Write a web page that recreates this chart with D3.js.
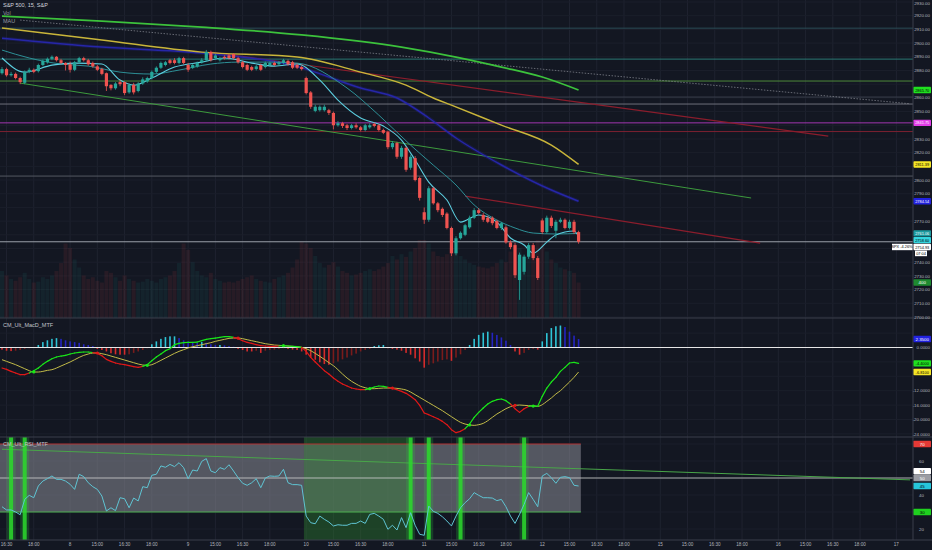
<!DOCTYPE html>
<html>
<head>
<meta charset="utf-8">
<script src="https://cdn.jsdelivr.net/npm/d3@7"></script>
<style>
  html, body { margin: 0; padding: 0; background: #131722; }
  svg { display: block; font-family: "Liberation Sans", Roboto, Arial, sans-serif; }
</style>
</head>
<body>
<svg id="chart" width="932" height="550"></svg>
<script>
// ---- data (S&P 500, 15 min) ----
var opens = [
  2878, 2881, 2876.5, 2877.5, 2874.5, 2871, 2879, 2880.5, 2879.5, 2884, 2886, 2888.5, 2890, 2887.5, 2885.5,
  2884.5, 2880.5, 2886, 2889, 2887.5, 2885.5, 2883, 2881, 2878, 2869.5, 2867, 2871.5, 2871.5, 2864, 2869.5, 2865, 2870.5, 2872, 2874.5, 2879, 2882, 2884, 2887.5, 2887.5, 2885.5, 2889,
  2884, 2882, 2883, 2886, 2887.5, 2893.5, 2889, 2887.5, 2890, 2891, 2892, 2889, 2886, 2884, 2882.5, 2881, 2884, 2882.5, 2884, 2885.5, 2884.5, 2885.5, 2887, 2886, 2884, 2882.5,
  2874.5, 2864, 2850.5, 2851, 2851, 2851, 2849, 2840, 2841.5, 2840, 2838, 2840, 2838.5, 2836.5, 2838.5, 2841, 2840, 2836.5, 2835, 2824, 2827, 2817, 2823.5, 2809, 2816, 2801.5,
  2776.5, 2771, 2794, 2783, 2779, 2775.5, 2765, 2746.5, 2757.5, 2760, 2765.5, 2772.5, 2778, 2774.5, 2772.5, 2772.5, 2770, 2765, 2765.5, 2754.5, 2752.5, 2727, 2733, 2744, 2752.5, 2743,
  2770.5, 2762, 2772.5, 2763, 2769.5, 2771, 2765, 2769.5, 2762
];
var highs = [
  2882.5, 2882, 2879, 2878.5, 2875.5, 2880, 2882, 2881.5, 2885, 2888, 2889.5, 2891, 2890.5, 2888.5, 2886,
  2886.5, 2887, 2890, 2890, 2888.5, 2886.5, 2884, 2882, 2878.5, 2870, 2871.5, 2873, 2872, 2870.5, 2871, 2871.5, 2875, 2875.5, 2880, 2883, 2886.5, 2887, 2888.5, 2889, 2890, 2890,
  2885.5, 2885, 2886.5, 2889, 2895, 2894.5, 2892, 2890, 2891, 2892, 2892.5, 2890, 2887, 2885, 2883.5, 2884, 2885, 2886.5, 2886.5, 2886.5, 2887, 2888.5, 2888, 2887, 2885, 2883.5,
  2875.5, 2865, 2855, 2854.5, 2855, 2852, 2850, 2843, 2842.5, 2841, 2841, 2841.5, 2839.5, 2841, 2841.5, 2842, 2841, 2837.5, 2836, 2828.5, 2828, 2825, 2824.5, 2818.5, 2817.5, 2802.5,
  2780, 2795.5, 2795, 2784, 2780, 2776.5, 2766, 2759, 2762.5, 2768, 2774, 2779.5, 2779.5, 2776, 2774, 2773.5, 2771, 2769.5, 2767, 2756, 2754, 2747, 2745.5, 2754, 2754, 2744.5,
  2772, 2774, 2774, 2771, 2772.5, 2772, 2771, 2771, 2763
];
var lows = [
  2877, 2875.5, 2875.5, 2873.5, 2870, 2870, 2878, 2878, 2878.5, 2883, 2885, 2887.5, 2886.5, 2884.5, 2880,
  2878.5, 2879.5, 2885, 2886.5, 2883.5, 2882, 2879.5, 2876.5, 2865, 2865.5, 2866, 2868.5, 2862, 2863, 2862.5, 2864, 2869.5, 2871, 2873.5, 2878, 2881, 2883, 2884.5, 2884.5, 2884.5, 2884.5,
  2879, 2881, 2882, 2885, 2886.5, 2886.5, 2888, 2886.5, 2888, 2888, 2888, 2885, 2881.5, 2879.5, 2879.5, 2880, 2879.5, 2881.5, 2883, 2883, 2883.5, 2884.5, 2883.5, 2881, 2881, 2880,
  2862.5, 2852, 2849.5, 2850, 2850, 2847.5, 2837, 2839, 2838, 2836.5, 2837, 2837.5, 2835.5, 2835.5, 2837.5, 2838.5, 2835.5, 2833.5, 2822.5, 2822.5, 2815.5, 2815.5, 2806, 2807.5, 2799, 2785,
  2768, 2769.5, 2782, 2776.5, 2773, 2764, 2744.5, 2745, 2756.5, 2759, 2764.5, 2771.5, 2775, 2769.5, 2768.5, 2767, 2764, 2763.5, 2753.5, 2749.5, 2728.5, 2712.5, 2731, 2742.5, 2741.5, 2727,
  2760.5, 2761, 2765, 2757.5, 2768.5, 2764, 2764, 2760.5, 2753.5
];
var closes = [
  2881, 2876.5, 2877.5, 2874.5, 2871.5, 2879, 2880.5, 2879, 2884, 2887, 2888.5, 2890, 2887.5, 2885.5, 2884,
  2880.5, 2886, 2889, 2887.5, 2884.5, 2883, 2880.5, 2877.5, 2868.5, 2867, 2870.5, 2870, 2863.5, 2869.5, 2864, 2870.5, 2873.5, 2874.5, 2879, 2882, 2885.5, 2886, 2885.5, 2885.5, 2889, 2885.5,
  2880.5, 2884, 2885.5, 2887.5, 2893.5, 2887.5, 2891, 2889, 2889, 2889, 2889, 2886, 2882.5, 2880.5, 2880.5, 2883, 2880.5, 2885.5, 2885.5, 2884, 2886, 2887.5, 2884.5, 2882, 2882, 2881,
  2863.5, 2853.5, 2853.5, 2853.5, 2853.5, 2849, 2840, 2841.5, 2839.5, 2838, 2840, 2838.5, 2836.5, 2840, 2840, 2839.5, 2836.5, 2834.5, 2824, 2827, 2817, 2823.5, 2807.5, 2817, 2800, 2787,
  2771, 2794, 2783, 2778, 2774.5, 2765, 2746.5, 2757.5, 2761.5, 2767, 2772.5, 2778, 2776, 2771, 2769.5, 2768.5, 2765, 2768.5, 2754.5, 2751, 2730.5, 2745.5, 2744, 2752.5, 2743, 2728.5,
  2762, 2772.5, 2766.5, 2769.5, 2771, 2765, 2769.5, 2762, 2754.93
];
var volumes = [
  530, 480, 440, 420, 460, 510, 440, 400, 410, 460, 440, 480, 530, 620, 840,
  790, 660, 570, 480, 440, 460, 420, 400, 530, 510, 460, 420, 480, 440, 420, 400, 410, 440, 420, 400, 440, 460, 480, 530, 620, 840,
  770, 630, 530, 480, 460, 510, 440, 420, 400, 410, 400, 420, 440, 460, 480, 440, 420, 410, 400, 440, 460, 480, 510, 570, 660, 860,
  840, 790, 700, 620, 570, 600, 630, 580, 530, 510, 480, 490, 510, 530, 550, 530, 550, 580, 620, 700, 660, 720, 690, 750, 790, 880,
  880, 840, 750, 700, 690, 720, 790, 750, 700, 660, 620, 600, 580, 570, 560, 580, 620, 660, 630, 750, 840, 790, 700, 690, 750, 880,
  840, 750, 660, 620, 570, 550, 530, 510, 400
];

// moving averages: [bar index, price]
var greenMA  = [[0, 2919.7], [22, 2916.1], [44, 2911.7], [66, 2906.0], [88, 2897.1], [100, 2889.8], [110, 2882.5], [119, 2875.2], [127, 2865.7]];
var yellowMA = [[0, 2911.0], [22, 2902.2], [44, 2893.4], [65, 2889.8], [79, 2878.8], [89, 2869.3], [95, 2859.9], [99, 2854.7], [110, 2840.1], [121, 2825.5], [127, 2811.39]];
var blueMA   = [[0, 2903.6], [22, 2897.1], [44, 2892.7], [64, 2883.9], [79, 2867.2], [87, 2859.9], [94, 2845.3], [100, 2830.7], [110, 2811.0], [121, 2792.7], [127, 2784.54]];
var fastMA   = [[0, 2889.1], [5, 2878.8], [11, 2883.9], [16, 2885.4], [22, 2884.7], [26, 2873.0], [29, 2869.3], [33, 2874.5], [38, 2882.5], [44, 2886.1], [49, 2889.1], [55, 2885.4], [60, 2883.2], [65, 2884.7], [70, 2873.0], [74, 2858.4], [79, 2845.3], [84, 2839.4], [88, 2829.2], [91, 2814.6], [94, 2798.5], [98, 2785.4], [101, 2769.3], [105, 2774.5], [109, 2769.3], [112, 2757.7], [115, 2752.6], [117, 2746.7], [120, 2754.7], [122, 2759.9], [126, 2762.8], [127, 2758.6]];
var slowMA   = [[0, 2894.9], [6, 2889.1], [13, 2884.7], [19, 2883.2], [26, 2878.8], [33, 2877.4], [39, 2880.3], [46, 2884.7], [52, 2886.1], [59, 2886.1], [65, 2885.4], [76, 2867.2], [83, 2847.4], [90, 2825.5], [95, 2810.9], [100, 2796.4], [104, 2781.8], [109, 2770.8], [113, 2765.0], [117, 2761.3], [122, 2760.6], [127, 2761.06]];

// drawn lines: [[index, price], [index, price]]
var greenTrend = [[4, 2870.8], [165, 2786.9]];
var redTrend1  = [[46, 2893.4], [182, 2832.1]];
var redTrend2  = [[102, 2788.3], [167, 2754.0]];
var dottedLine = [[4, 2916.8], [200, 2855.7]];
var levels = [2910.9, 2888.3, 2872.3, 2860.6, 2855.5, 2841.75, 2835.4, 2802.9];
var lastPrice = 2754.93;
var spxChange = '-4.26%';

// CM_Ult_MacD_MTF
var macdLine = [
  -5.70, -6.07, -6.63, -7.09, -7.55, -7.55, -7.09, -6.44, -5.70, -4.68,
  -3.85, -3.11, -2.64, -2.37, -2.18, -1.81, -1.53, -1.35, -1.25, -1.25,
  -1.44, -1.63, -2.27, -3.29, -3.85, -4.31, -4.59, -4.77, -5.05, -5.33,
  -5.51, -5.24, -4.77, -3.66, -2.64, -1.81, -0.88, -0.33, 0.78, 1.15,
  1.34, 1.43, 1.43, 1.52, 1.89, 2.26, 2.45, 2.63, 2.82, 3.00,
  3.00, 2.82, 2.45, 1.89, 1.43, 1.15, 0.78, 0.50, 0.41, 0.32,
  0.32, 0.41, 0.50, 0.41, 0.32, 0.23, 0.04, -1.07, -2.74, -4.03,
  -5.24, -6.44, -7.37, -8.48, -9.40, -10.14, -10.70, -11.26, -11.53, -11.72,
  -11.72, -11.44, -10.98, -10.70, -10.79, -11.07, -11.35, -11.72, -12.18, -12.74,
  -13.57, -14.50, -16.07, -18.20, -18.66, -19.22, -19.78, -20.52, -21.44, -22.83,
  -23.66, -23.29, -22.55, -21.26, -19.40, -18.02, -16.81, -15.70, -14.96, -14.50,
  -14.31, -14.77, -15.70, -16.99, -18.02, -16.99, -16.35, -16.16, -16.35, -13.57,
  -11.26, -9.59, -8.29, -6.63, -5.51, -4.31, -4.13, -4.40
];
var signalLine = [
  -3.39, -3.85, -4.31, -4.77, -5.33, -5.89, -6.44, -6.81, -6.81, -6.63,
  -6.35, -6.16, -5.70, -5.14, -4.59, -4.03, -3.39, -2.74, -2.18, -1.81,
  -1.53, -1.53, -1.72, -2.00, -2.37, -2.74, -3.11, -3.48, -3.85, -4.22,
  -4.59, -4.87, -4.96, -4.77, -4.22, -3.57, -2.92, -2.27, -1.63, -1.07,
  -0.61, -0.14, 0.23, 0.50, 0.78, 1.06, 1.34, 1.71, 1.99, 2.26,
  2.54, 2.63, 2.63, 2.45, 2.17, 1.89, 1.62, 1.34, 1.06, 0.87,
  0.69, 0.60, 0.50, 0.41, 0.32, 0.23, 0.04, -0.33, -0.88, -1.63,
  -2.46, -3.29, -4.22, -5.05, -6.16, -7.37, -8.48, -9.40, -10.14, -10.79,
  -11.16, -11.44, -11.44, -11.35, -11.26, -11.26, -11.26, -11.35, -11.53, -11.81,
  -12.37, -13.11, -13.85, -14.59, -15.33, -16.07, -16.81, -17.55, -18.39, -19.22,
  -20.05, -20.79, -21.26, -21.53, -21.63, -21.44, -21.07, -20.33, -19.40, -18.48,
  -17.74, -16.99, -16.44, -16.07, -15.98, -16.07, -16.16, -16.26, -16.35, -15.89,
  -14.96, -14.03, -12.92, -12.00, -10.79, -9.59, -8.29, -6.81
];
var macdHist = [
  -0.6, -0.9, -1.0, -0.9, -0.7, -0.4, -0.2, 0.1,
  0.7, 1.5, 2.0, 2.4, 2.6, 2.4, 2.0, 1.7, 1.5, 1.3, 0.9, 0.7, 0.4,
  -0.4, -0.7, -1.1, -1.6, -1.9, -2.0, -2.0, -1.9, -1.5, -1.1, -0.7, -0.2,
  0.9, 1.7, 2.4, 2.9, 3.1, 3.1, 2.6, 2.0, 1.7, 1.5, 1.3, 1.5, 1.3, 0.9, 0.7, 0.7, 0.6, 0.4, 0.2,
  -0.4, -0.7, -1.1, -1.1, -0.9, -1.5, -0.9, -0.7, -0.6, -0.4, -0.2, -0.4, -0.6, -0.7, -1.1, -2.0, -2.8, -3.4, -4.1, -4.6, -4.8, -4.4, -3.9, -3.3, -2.8, -2.2, -1.7, -1.1, -0.7, -0.4,
  0.4, 0.6, 0.7,
  -0.2, -0.4, -0.6, -0.9, -1.5, -2.0, -3.0, -3.9, -5.6, -4.8, -4.4, -3.9, -3.5, -3.3, -3.7, -2.8, -1.9, -0.7,
  0.7, 2.4, 3.5, 4.1, 4.4, 4.1, 3.5, 2.8, 1.9, 0.7,
  -1.1, -2.0, -1.5, -0.7, -0.4, -0.6,
  1.7, 4.0, 5.4, 5.9, 6.1, 5.7, 4.4, 3.3, 2.35
];

// CM_Ult_RSI_MTF
var rsiLine = [
  33.1, 31.2, 31.2, 30.0, 28.4, 37.4, 39.8, 38.4, 45.3, 48.2,
  49.6, 51.2, 49.2, 49.2, 48.2, 46.3, 43.3, 52.2, 50.8, 47.2,
  44.9, 43.3, 39.4, 30.6, 32.5, 30.8, 38.4, 37.8, 32.5, 38.2,
  36.5, 44.9, 44.3, 51.6, 52.2, 57.1, 56.3, 58.0, 56.7, 59.0,
  56.1, 49.6, 54.7, 54.1, 59.8, 61.4, 54.1, 53.1, 56.1, 55.1,
  57.8, 54.1, 50.2, 46.9, 45.7, 47.2, 49.6, 44.3, 50.0, 51.2,
  51.0, 51.2, 55.1, 47.2, 46.1, 46.1, 45.7, 27.6, 23.7, 23.1,
  27.6, 25.7, 24.1, 21.8, 22.5, 22.2, 22.2, 23.3, 23.3, 24.7,
  23.3, 28.6, 29.2, 27.6, 25.7, 19.8, 22.2, 19.4, 26.7, 20.8,
  29.6, 22.2, 16.9, 16.3, 33.5, 30.4, 29.2, 27.2, 24.7, 21.8,
  27.6, 32.5, 35.5, 37.8, 41.4, 39.8, 38.4, 38.4, 38.2, 36.7,
  37.4, 33.1, 27.6, 23.3, 28.6, 34.5, 41.4, 37.4, 33.1, 51.2,
  52.7, 50.2, 46.9, 50.4, 50.8, 50.2, 45.7, 45.3
];
var rsiZone = [67, 89];
var rsiSignalBars = [2, 5, 90, 94, 101, 115];
var rsiTrend = [[0, 66.9], [200, 48.9]];
var rsiMarks = [70, 54, 50, 30];

// time axis
var tickIndex = [1, 7, 15, 21, 27, 33, 41, 47, 53, 59, 67, 73, 79, 85, 93, 99, 105, 111, 119, 125, 131, 137, 145, 151, 157, 163, 171, 177, 183, 189, 197];
var tickText = ['16:30', '18:00', '8', '15:00', '16:30', '18:00', '9', '15:00', '16:30', '18:00', '10', '15:00', '16:30', '18:00', '11', '15:00', '16:30', '18:00', '12', '15:00', '16:30', '18:00', '15', '15:00', '16:30', '18:00', '16', '15:00', '16:30', '18:00', '17'];

// ---- drawing ----
var W = 932, H = 550, plotR = 913;
var up = '#26a69a', down = '#ef5350';
var svg = d3.select('#chart');
svg.append('rect').attr('width', W).attr('height', H).attr('fill', '#131722');

var n = closes.length;
var x = d3.scaleLinear().domain([0, 127]).range([2, 2 + 127 * 4.54]);
var yP = d3.scaleLinear().domain([2700, 2930]).range([317, 2]);
var yV = d3.scaleLinear().domain([0, 880]).range([318, 240]);
var yM = d3.scaleLinear().domain([-24, 4]).range([433.9, 333.1]);
var yR = d3.scaleLinear().domain([20, 70]).range([529, 444]);
var half = 2.27;

var defs = svg.append('defs');
function clip(id, y0, y1){
  defs.append('clipPath').attr('id', id).append('rect')
    .attr('x', 0).attr('y', y0).attr('width', plotR).attr('height', y1 - y0);
}
clip('cp', 0, 318);
clip('cm', 318, 437);
clip('cr', 437, 540);

// grid
var grid = svg.append('g');
grid.selectAll('line.v').data(tickIndex).enter().append('line')
  .attr('x1', d => x(d)).attr('x2', d => x(d)).attr('y1', 0).attr('y2', 540)
  .attr('stroke', '#1f2330').attr('stroke-width', 1);
var priceTicks = d3.range(2700, 2931, 10);
grid.selectAll('line.hp').data(priceTicks).enter().append('line')
  .attr('x1', 0).attr('x2', plotR).attr('y1', d => yP(d)).attr('y2', d => yP(d))
  .attr('stroke', '#1b1f2b');
var macdTicks = d3.range(-24, 5, 4);
grid.selectAll('line.hm').data(macdTicks).enter().append('line')
  .attr('x1', 0).attr('x2', plotR).attr('y1', d => yM(d)).attr('y2', d => yM(d))
  .attr('stroke', '#1b1f2b');
var rsiTicks = [20, 30, 40, 50, 60, 70];
grid.selectAll('line.hr').data(rsiTicks).enter().append('line')
  .attr('x1', 0).attr('x2', plotR).attr('y1', d => yR(d)).attr('y2', d => yR(d))
  .attr('stroke', '#1b1f2b');

// ---- price pane ----
var gP = svg.append('g').attr('clip-path', 'url(#cp)');

// volume
gP.selectAll('rect.vol').data(d3.range(n)).enter().append('rect')
  .attr('x', i => x(i) - 2).attr('width', 4)
  .attr('y', i => yV(volumes[i])).attr('height', i => 318 - yV(volumes[i]))
  .attr('fill', i => closes[i] >= opens[i] ? up : down).attr('opacity', 0.09);

// horizontal levels
var levelColors = ['#2b4c57', '#2a7873', '#4e8a3a', '#3a3e4c', '#6e707a', '#a236b0', '#7c2131', '#545762'];
gP.selectAll('line.lvl').data(levels).enter().append('line')
  .attr('x1', 0).attr('x2', plotR).attr('y1', d => yP(d)).attr('y2', d => yP(d))
  .attr('stroke', (d, i) => levelColors[i]).attr('stroke-width', 1);
gP.append('line').attr('x1', 0).attr('x2', plotR)
  .attr('y1', yP(lastPrice)).attr('y2', yP(lastPrice))
  .attr('stroke', '#9aa0aa').attr('stroke-width', 1);

function seg(g, pts, color, w, dash, op){
  g.append('line')
    .attr('x1', x(pts[0][0])).attr('y1', yP(pts[0][1]))
    .attr('x2', x(pts[1][0])).attr('y2', yP(pts[1][1]))
    .attr('stroke', color).attr('stroke-width', w)
    .attr('stroke-dasharray', dash || null).attr('opacity', op || 1);
}
seg(gP, dottedLine, '#8a8d96', 1, '1.5,1.5', 0.7);
seg(gP, greenTrend, '#3d9a3d', 1);
seg(gP, redTrend1, '#8b1d2c', 1.2);
seg(gP, redTrend2, '#8b1d2c', 1.2);

var maLine = d3.line().x(d => x(d[0])).y(d => yP(d[1])).curve(d3.curveMonotoneX);
gP.append('path').attr('d', maLine(blueMA)).attr('fill', 'none').attr('stroke', '#2a2ad0').attr('stroke-width', 3.5).attr('opacity', 0.18);
gP.append('path').attr('d', maLine(blueMA)).attr('fill', 'none').attr('stroke', '#2626a8').attr('stroke-width', 1.5);
gP.append('path').attr('d', maLine(yellowMA)).attr('fill', 'none').attr('stroke', '#c9b53a').attr('stroke-width', 1.5);
gP.append('path').attr('d', maLine(greenMA)).attr('fill', 'none').attr('stroke', '#3cc23c').attr('stroke-width', 1.7);
gP.append('path').attr('d', maLine(slowMA)).attr('fill', 'none').attr('stroke', '#2d8f96').attr('stroke-width', 1);
gP.append('path').attr('d', maLine(fastMA)).attr('fill', 'none').attr('stroke', '#5ccfe0').attr('stroke-width', 1.1);

// candles
var cg = gP.selectAll('g.c').data(d3.range(n)).enter().append('g');
cg.append('line')
  .attr('x1', i => x(i)).attr('x2', i => x(i))
  .attr('y1', i => yP(highs[i])).attr('y2', i => yP(lows[i]))
  .attr('stroke', i => closes[i] >= opens[i] ? up : down).attr('stroke-width', 0.8);
cg.append('rect')
  .attr('x', i => x(i) - 1.6).attr('width', 3.2)
  .attr('y', i => yP(Math.max(opens[i], closes[i])))
  .attr('height', i => Math.max(0.8, Math.abs(yP(opens[i]) - yP(closes[i]))))
  .attr('fill', i => closes[i] >= opens[i] ? up : down);

// ---- MACD pane ----
var gM = svg.append('g').attr('clip-path', 'url(#cm)');
gM.selectAll('rect.h').data(d3.range(n)).enter().append('rect')
  .attr('x', i => x(i) - 0.8).attr('width', 1.6)
  .attr('y', i => Math.min(yM(0), yM(macdHist[i])))
  .attr('height', i => Math.abs(yM(macdHist[i]) - yM(0)))
  .attr('fill', function(i){
    var h = macdHist[i], p = i > 0 ? macdHist[i - 1] : h;
    if (h >= 0) return h >= p ? '#2ec4d6' : '#2424c0';
    return h <= p ? '#d52b2b' : '#7a1c1c';
  });
gM.append('line').attr('x1', 0).attr('x2', plotR).attr('y1', yM(0)).attr('y2', yM(0))
  .attr('stroke', '#e6e6e6').attr('stroke-width', 1);
gM.append('path')
  .attr('d', d3.line().x((d, i) => x(i)).y(d => yM(d)).curve(d3.curveMonotoneX)(signalLine))
  .attr('fill', 'none').attr('stroke', '#c2bb48').attr('stroke-width', 1);
for (var i = 0; i < n - 1; i++) {
  gM.append('line')
    .attr('x1', x(i)).attr('y1', yM(macdLine[i]))
    .attr('x2', x(i + 1)).attr('y2', yM(macdLine[i + 1]))
    .attr('stroke', macdLine[i + 1] >= signalLine[i + 1] ? '#19e619' : '#e01818')
    .attr('stroke-width', 1.2).attr('stroke-linecap', 'round');
}
for (var j = 1; j < n; j++) {
  var a = macdLine[j - 1] - signalLine[j - 1], b = macdLine[j] - signalLine[j];
  if ((a < 0 && b >= 0) || (a > 0 && b < 0)) {
    gM.append('circle').attr('cx', x(j)).attr('cy', yM(signalLine[j])).attr('r', 1.6)
      .attr('fill', b >= 0 ? '#19e619' : '#e01818');
  }
}

// ---- RSI pane ----
var gR = svg.append('g').attr('clip-path', 'url(#cr)');
var bandR = x(n - 1) + half;
gR.append('rect').attr('x', 0).attr('width', bandR)
  .attr('y', yR(70)).attr('height', yR(30) - yR(70))
  .attr('fill', '#8a8d96').attr('opacity', 0.55);
gR.append('rect').attr('x', x(rsiZone[0]) - half).attr('width', x(rsiZone[1]) - x(rsiZone[0]) + 2 * half)
  .attr('y', 437).attr('height', 103)
  .attr('fill', '#2f8a2f').attr('opacity', 0.38);
gR.append('line').attr('x1', 0).attr('x2', bandR).attr('y1', yR(70)).attr('y2', yR(70))
  .attr('stroke', '#b03030').attr('stroke-width', 1);
gR.append('line').attr('x1', 0).attr('x2', bandR).attr('y1', yR(30)).attr('y2', yR(30))
  .attr('stroke', '#4caf50').attr('stroke-width', 1);
gR.append('line').attr('x1', 0).attr('x2', plotR).attr('y1', yR(50)).attr('y2', yR(50))
  .attr('stroke', '#c8c8c8').attr('stroke-width', 1).attr('opacity', 0.85);
gR.append('line')
  .attr('x1', x(rsiTrend[0][0])).attr('y1', yR(rsiTrend[0][1]))
  .attr('x2', x(rsiTrend[1][0])).attr('y2', yR(rsiTrend[1][1]))
  .attr('stroke', '#49a649').attr('stroke-width', 1);
gR.selectAll('rect.glow').data(rsiSignalBars).enter().append('rect')
  .attr('x', d => x(d) - 4.5).attr('width', 9).attr('y', 437).attr('height', 103)
  .attr('fill', '#2ecc40').attr('opacity', 0.22);
gR.selectAll('rect.sig').data(rsiSignalBars).enter().append('rect')
  .attr('x', d => x(d) - 2).attr('width', 4).attr('y', 437).attr('height', 103)
  .attr('fill', '#2bd92b').attr('opacity', 0.85);
gR.append('path')
  .attr('d', d3.line().x((d, i) => x(i)).y(d => yR(d))(rsiLine))
  .attr('fill', 'none').attr('stroke', '#5fc4d3').attr('stroke-width', 1);

// pane borders
svg.append('line').attr('x1', 0).attr('x2', W).attr('y1', 318).attr('y2', 318).attr('stroke', '#3a3e4a');
svg.append('line').attr('x1', 0).attr('x2', W).attr('y1', 437).attr('y2', 437).attr('stroke', '#3a3e4a');
svg.append('line').attr('x1', 0).attr('x2', W).attr('y1', 540).attr('y2', 540).attr('stroke', '#3a3e4a');
svg.append('line').attr('x1', plotR).attr('x2', plotR).attr('y1', 0).attr('y2', 540).attr('stroke', '#3a3e4a');

// value boxes: positions first so the axis labels under them can be skipped
function stack(list){
  list.sort((p, q) => p.y - q.y);
  for (var k = 1; k < list.length; k++) {
    if (list[k].y < list[k - 1].y + 6.8) list[k].y = list[k - 1].y + 6.8;
  }
  return list;
}
var pb = stack([
  {y: yP(greenMA[greenMA.length - 1][1]), t: greenMA[greenMA.length - 1][1].toFixed(2), bg: '#1fe01f', fg: '#000'},
  {y: yP(levels[5]), t: levels[5].toFixed(2), bg: '#e23ee8', fg: '#fff'},
  {y: yP(yellowMA[yellowMA.length - 1][1]), t: yellowMA[yellowMA.length - 1][1].toFixed(2), bg: '#f5e626', fg: '#000'},
  {y: yP(blueMA[blueMA.length - 1][1]), t: blueMA[blueMA.length - 1][1].toFixed(2), bg: '#2222e0', fg: '#fff'},
  {y: yP(slowMA[slowMA.length - 1][1]), t: slowMA[slowMA.length - 1][1].toFixed(2), bg: '#1d9a9f', fg: '#fff'},
  {y: yP(fastMA[fastMA.length - 1][1]), t: fastMA[fastMA.length - 1][1].toFixed(2), bg: '#35d6e0', fg: '#000'},
  {y: yP(lastPrice), t: lastPrice.toFixed(2), bg: '#ffffff', fg: '#000', last: true},
  {y: yV(volumes[n - 1]), t: String(volumes[n - 1]), bg: '#1e8a30', fg: '#fff'}
]);
var mb = stack([
  {y: yM(macdHist[n - 1]), t: macdHist[n - 1].toFixed(4), bg: '#2222e0', fg: '#fff'},
  {y: yM(macdLine[n - 1]), t: macdLine[n - 1].toFixed(4), bg: '#1fe01f', fg: '#000'},
  {y: yM(signalLine[n - 1]), t: signalLine[n - 1].toFixed(4), bg: '#f5e626', fg: '#000'}
]);
var rb = stack([
  {y: yR(rsiMarks[0]), t: String(rsiMarks[0]), bg: '#e53935', fg: '#fff'},
  {y: yR(rsiMarks[1]), t: String(rsiMarks[1]), bg: '#ffffff', fg: '#000'},
  {y: yR(rsiMarks[2]), t: String(rsiMarks[2]), bg: '#9a9ca3', fg: '#fff'},
  {y: yR(rsiLine[n - 1]), t: rsiLine[n - 1].toFixed(0), bg: '#26c6da', fg: '#000'},
  {y: yR(rsiMarks[3]), t: String(rsiMarks[3]), bg: '#1fd01f', fg: '#000'}
]);
var allBoxes = pb.concat(mb, rb);
function free(y){ return !allBoxes.some(b => Math.abs(b.y - y) < 6.5); }

// axis labels
var ax = svg.append('g').attr('font-size', 4.4).attr('fill', '#b2b5be').attr('text-anchor', 'end');
ax.selectAll('text.p').data(priceTicks.filter(d => free(yP(d)) && yP(d) > 3)).enter().append('text')
  .attr('x', 930).attr('y', d => yP(d) + 1.6).text(d => d.toFixed(2));
ax.selectAll('text.m').data(macdTicks.filter(d => free(yM(d)))).enter().append('text')
  .attr('x', 930).attr('y', d => yM(d) + 1.6).text(d => d.toFixed(4));
ax.selectAll('text.r').data(rsiTicks.filter(d => free(yR(d)))).enter().append('text')
  .attr('x', 924).attr('y', d => yR(d) + 1.6).text(d => d);
svg.append('text').attr('x', 930).attr('y', 4.5).attr('font-size', 4.4).attr('fill', '#b2b5be')
  .attr('text-anchor', 'end').text(priceTicks[priceTicks.length - 1].toFixed(2));
svg.append('g').attr('font-size', 4.6).attr('fill', '#b2b5be')
  .selectAll('text').data(tickIndex).enter().append('text')
  .attr('x', d => x(d)).attr('y', 546).attr('text-anchor', 'middle')
  .text((d, k) => tickText[k]);

allBoxes.forEach(function(b){
  svg.append('rect').attr('x', 913.5).attr('y', b.y - 3.2).attr('width', 17.5).attr('height', 6.4)
    .attr('rx', 0.8).attr('fill', b.bg);
  svg.append('text').attr('x', 922.2).attr('y', b.y + 1.6).attr('text-anchor', 'middle')
    .attr('font-size', b.t.length > 6 ? 3.9 : 4.4).attr('fill', b.fg).text(b.t);
});
var lastBox = pb.filter(b => b.last)[0];
svg.append('rect').attr('x', 892).attr('y', lastBox.y - 3.2).attr('width', 20.5).attr('height', 6.4)
  .attr('fill', '#ffffff');
svg.append('text').attr('x', 902).attr('y', lastBox.y + 1.5).attr('text-anchor', 'middle')
  .attr('font-size', 3.9).attr('fill', '#000').text('SPX ' + spxChange);
svg.append('rect').attr('x', 915).attr('y', lastBox.y + 3.6).attr('width', 12).attr('height', 5.6)
  .attr('fill', '#ffffff');
svg.append('text').attr('x', 921).attr('y', lastBox.y + 7.7).attr('text-anchor', 'middle')
  .attr('font-size', 3.9).attr('fill', '#000').text('07:04');

// legends
var lg = svg.append('g').attr('font-size', 5.5).attr('fill', '#d1d4dc');
lg.append('text').attr('x', 3).attr('y', 7).text('S&P 500, 15, S&P');
lg.append('text').attr('x', 3).attr('y', 15).attr('fill', '#9598a1').text('Vol');
lg.append('text').attr('x', 3).attr('y', 22.5).attr('fill', '#9598a1').text('MAU');
lg.append('text').attr('x', 3).attr('y', 327).attr('fill', '#c0c3cc').text('CM_Ult_MacD_MTF');
lg.append('text').attr('x', 3).attr('y', 446).attr('fill', '#c0c3cc').text('CM_Ult_RSI_MTF');
</script>
</body>
</html>
